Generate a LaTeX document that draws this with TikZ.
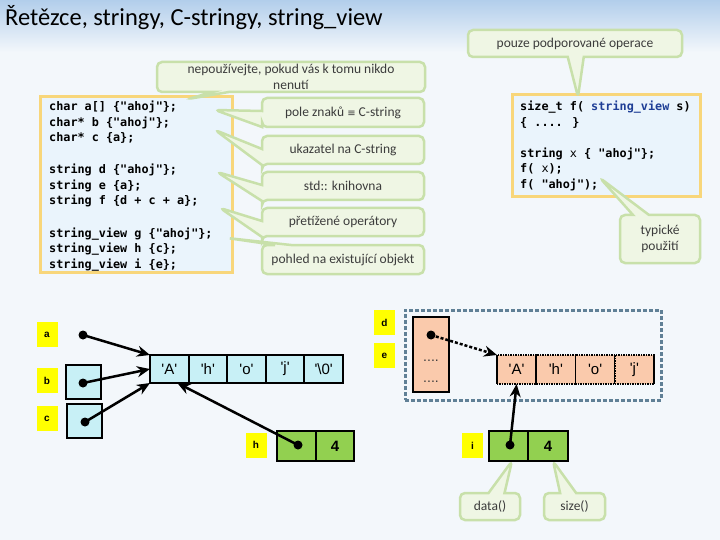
\documentclass[tikz,border=0pt]{standalone}
\usepackage{fontspec}
\setmainfont{Carlito}
\newfontfamily\codefont{DejaVu Sans Mono}
\newfontfamily\arialfont{Liberation Sans}
\newfontfamily\symfont{DejaVu Sans}
\usetikzlibrary{shapes.callouts,arrows.meta}
\definecolor{bg}{RGB}{243,247,251}
\definecolor{titleblue}{RGB}{178,206,235}
\definecolor{codefill}{RGB}{234,244,252}
\definecolor{codeframe}{RGB}{248,214,122}
\definecolor{kwblue}{RGB}{30,62,150}
\definecolor{notefill}{RGB}{239,246,228}
\definecolor{noteline}{RGB}{200,224,170}
\definecolor{notetext}{RGB}{60,60,60}
\definecolor{tagyellow}{RGB}{255,255,0}
\definecolor{cyancell}{RGB}{200,240,246}
\definecolor{greencell}{RGB}{146,208,80}
\definecolor{salmon}{RGB}{250,202,172}
\definecolor{framegray}{RGB}{96,128,150}
\newcommand{\q}[1]{\textquotesingle#1\textquotesingle}
\tikzset{
  codebox/.style={draw=codeframe, line width=3pt, fill=codefill, inner sep=0pt},
  code/.style={anchor=base west, inner sep=0pt, font=\codefont\bfseries\fontsize{11.8}{15}\selectfont},
  note/.style={rectangle callout, draw=noteline, line width=2.5pt, fill=notefill, rounded corners=5pt,
    text=notetext, inner sep=0pt, callout pointer width=16pt, font=\fontsize{13.5}{16}\selectfont, align=center},
  tag/.style={fill=tagyellow, minimum width=21pt, minimum height=25pt, inner sep=0pt,
    font=\arialfont\bfseries\fontsize{10}{12}\selectfont},
  cell/.style={draw, line width=2pt, minimum width=38.6pt, minimum height=28pt, inner sep=0pt,
    outer sep=0pt, font=\arialfont\fontsize{15}{17}\selectfont},
  ptr/.style={line width=2.5pt, -{Stealth[length=13pt,width=11pt]}},
  dot/.style={circle, fill, inner sep=0pt, minimum size=9pt}
}
\begin{document}
\begin{tikzpicture}[x=1pt,y=-1pt]
\useasboundingbox (0,0) rectangle (720,540);
\fill[bg] (0,0) rectangle (720,540);
\shade[top color=titleblue, bottom color=bg] (0,0) rectangle (720,52);
\node[anchor=base west, inner sep=0pt, font=\fontsize{24.5}{30}\selectfont] (title) at (5,26) {Řetězce, stringy, C-stringy, string\_view};
% code
\node[codebox, minimum width=192pt, minimum height=175pt] (left) at (136,184.5) {};
\node[codebox, minimum width=188pt, minimum height=102pt] (right) at (606,146) {};
\node[code] (c1) at (49,111) {char a[] \{"ahoj"\};};
\node[code] (c2) at (49,127) {char* b \{"ahoj"\};};
\node[code] (c3) at (49,142) {char* c \{a\};};
\node[code] (c4) at (49,174) {string d \{"ahoj"\};};
\node[code] (c5) at (49,190) {string e \{a\};};
\node[code] (c6) at (49,205) {string f \{d + c + a\};};
\node[code] (c7) at (49,237) {string\_view g \{"ahoj"\};};
\node[code] (c8) at (49,252) {string\_view h \{c\};};
\node[code] (c9) at (49,268) {string\_view i \{e\};};
\node[code] (r1) at (520,111) {size\_t f( {\color{kwblue}string\_view} s)};
\node[code] (r2) at (520,127) {\{ .... \}};
\node[code] (r3) at (520,158) {string {\mdseries x} \{ "ahoj"\};};
\node[code] (r4) at (520,173) {f( {\mdseries x});};
\node[code] (r5) at (520,189) {f( "ahoj");};
% notes
\node[note, minimum width=214pt, minimum height=27pt, callout absolute pointer={(578,97)}] (pouze) at (575,43.5) {pouze podporované operace};
\node[note, minimum width=268pt, minimum height=30pt, callout absolute pointer={(188,99)}] (nepouz) at (291,77) {nepoužívejte, pokud vás k tomu nikdo\\nenutí};
\node[note, minimum width=162pt, minimum height=29pt, callout absolute pointer={(215,110)}] (pole) at (343,112.5) {pole znaků {\symfont\fontsize{10}{12}\selectfont ≡} C-string};
\node[note, minimum width=162pt, minimum height=28pt, callout absolute pointer={(215,130)}] (ukaz) at (343,150) {ukazatel na C-string};
\node[note, minimum width=162pt, minimum height=28pt, callout absolute pointer={(217,172)}] (knih) at (343,186) {std:: knihovna};
\node[note, minimum width=162pt, minimum height=28pt, callout absolute pointer={(220,208)}] (oper) at (343,222) {přetížené operátory};
\node[note, minimum width=162pt, minimum height=29pt, callout absolute pointer={(227,238)}] (pohled) at (343,259.5) {pohled na existující objekt};
\node[note, minimum width=80pt, minimum height=48pt, callout absolute pointer={(600,178)}] (typ) at (660,239) {typické\\použití};
% memory
\node[draw=framegray, line width=3pt, dash pattern=on 4pt off 2pt, minimum width=256pt, minimum height=90pt, inner sep=0pt] (str) at (533,355) {};
\node[tag] (ta) at (47,334.5) {a};
\node[tag] (tb) at (47,380.5) {b};
\node[tag] (tc) at (47,418.5) {c};
\node[tag] (td) at (384.5,322.5) {d};
\node[tag] (te) at (384.5,355.5) {e};
\node[tag] (th) at (256,445) {h};
\node[tag] (ti) at (472.5,445.5) {i};
\node[cell, fill=cyancell, minimum width=35pt, minimum height=34pt] (bbox) at (83.5,382) {};
\node[cell, fill=cyancell, minimum width=35pt, minimum height=34pt] (cbox) at (84.5,421) {};
\node[cell, fill=cyancell] (A1) at (169.3,369) {\q{A}};
\node[cell, fill=cyancell] (A2) at (207.9,369) {\q{h}};
\node[cell, fill=cyancell] (A3) at (246.5,369) {\q{o}};
\node[cell, fill=cyancell] (A4) at (285.1,369) {\q{j}};
\node[cell, fill=cyancell] (A5) at (323.7,369) {\q{\textbackslash0}};
\node[cell, fill=salmon, minimum width=36pt, minimum height=75pt] (debox) at (431,354.5) {};
\node[font=\arialfont\fontsize{14}{16}\selectfont, text=notetext, inner sep=0pt] (dots1) at (431,361) {....};
\node[font=\arialfont\fontsize{14}{16}\selectfont, text=notetext, inner sep=0pt] (dots2) at (431,382) {....};
\node[cell, fill=salmon, line width=1.5pt, dash pattern=on 1.5pt off 1pt, minimum width=39.25pt, minimum height=29pt] (B1) at (516.6,369.5) {\q{A}};
\node[cell, fill=salmon, line width=1.5pt, dash pattern=on 1.5pt off 1pt, minimum width=39.25pt, minimum height=29pt] (B2) at (555.9,369.5) {\q{h}};
\node[cell, fill=salmon, line width=1.5pt, dash pattern=on 1.5pt off 1pt, minimum width=39.25pt, minimum height=29pt] (B3) at (595.1,369.5) {\q{o}};
\node[cell, fill=salmon, line width=1.5pt, dash pattern=on 1.5pt off 1pt, minimum width=39.25pt, minimum height=29pt] (B4) at (634.4,369.5) {\q{j}};
\draw[line width=1.5pt] (B1.north west) -- (B1.south west);
\draw[line width=1.5pt] (B1.north east) -- (B1.south east);
\draw[line width=1.5pt] (B2.north east) -- (B2.south east);
\draw[line width=1.5pt] (B3.north east) -- (B3.south east);
\draw[line width=1.5pt] (B4.north east) -- (B4.south east);
\node[cell, fill=greencell, minimum width=38.5pt, minimum height=30pt] (h1) at (296.5,446) {};
\node[cell, fill=greencell, minimum width=38.5pt, minimum height=30pt, font=\arialfont\bfseries\fontsize{15}{17}\selectfont] (h2) at (335,446) {4};
\node[cell, fill=greencell, minimum width=39.5pt, minimum height=30pt] (i1) at (508.5,446) {};
\node[cell, fill=greencell, minimum width=39.5pt, minimum height=30pt, font=\arialfont\bfseries\fontsize{15}{17}\selectfont] (i2) at (548,446) {4};
\node[note, minimum width=60pt, minimum height=27pt, callout absolute pointer={(512,461)}] (data) at (490,506.5) {data()};
\node[note, minimum width=61pt, minimum height=27pt, callout absolute pointer={(553,461)}] (size) at (574.5,506.5) {size()};
% pointers
\node[dot] (da) at (83,335) {};
\node[dot] (db) at (83,383) {};
\node[dot] (dc) at (85,422) {};
\node[dot] (dh) at (298,445) {};
\node[dot] (dd) at (431,335) {};
\node[dot] (di) at (510,445) {};
\draw[ptr] (da.center) -- (A1.north west);
\draw[ptr] (db.center) -- (A1.west);
\draw[ptr] (dc.center) -- (A1.south west);
\draw[ptr] (dh.center) -- ([xshift=8pt]A1.south);
\draw[ptr, dash pattern=on 3pt off 2pt] (dd.center) -- (B1.north west);
\draw[ptr] (di.center) -- (B1.south);
\end{tikzpicture}
\end{document}
